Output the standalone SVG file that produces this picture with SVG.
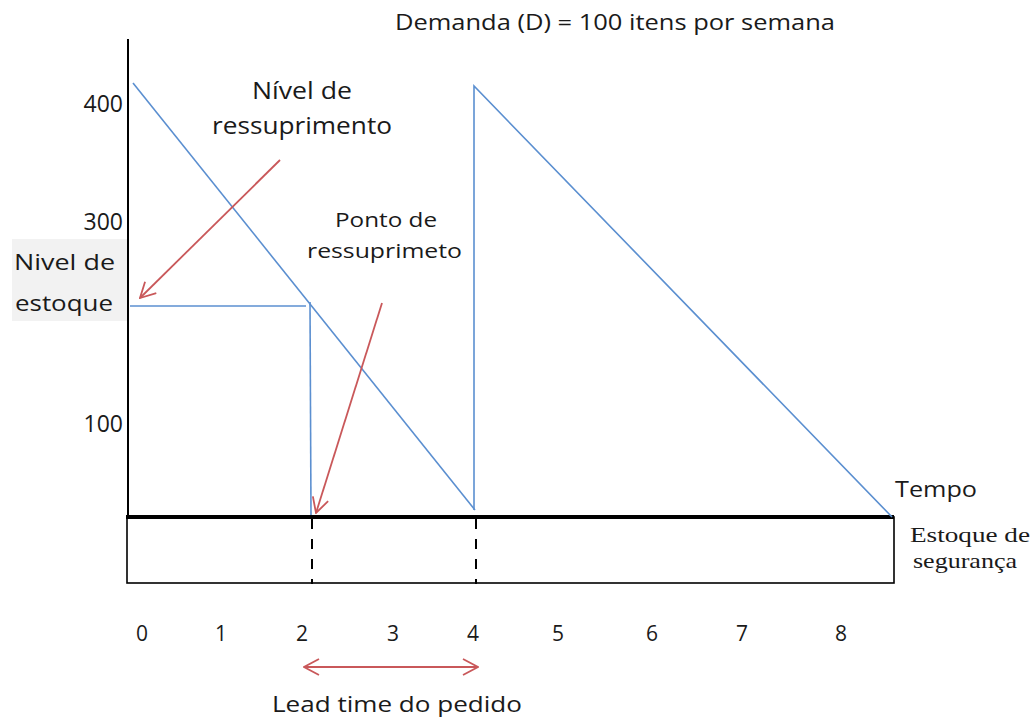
<svg xmlns="http://www.w3.org/2000/svg" width="1034" height="720" viewBox="0 0 1034 720">
<defs>
<style>
.t{font-family:"Open Sans","Liberation Sans",sans-serif;fill:#1a1a1a}
.s{font-family:"Liberation Serif",serif;fill:#1a1a1a}
.blue{stroke:#5b8fd0;stroke-width:1.6;fill:none}
.red{stroke:#c9585a;stroke-width:1.8;fill:none}
.blk{stroke:#000;fill:none}
</style>
<marker id="ah" viewBox="0 0 18 18" refX="17" refY="9" markerWidth="18" markerHeight="18" markerUnits="userSpaceOnUse" orient="auto-start-reverse">
<path d="M2,1 L17,9 L2,17" fill="none" stroke="#c9585a" stroke-width="1.8"/>
</marker>
</defs>
<rect width="1034" height="720" fill="#fff"/>
<g id="axes">
<line class="blk" x1="128" y1="39" x2="128" y2="518" stroke-width="2"/>
<rect class="blk" x="127" y="517" width="767" height="66" stroke-width="1.6"/>
<line class="blk" x1="126" y1="517" x2="894" y2="517" stroke-width="4"/>
<line class="blk" x1="312" y1="519" x2="312" y2="584" stroke-width="2" stroke-dasharray="10,10"/>
<line class="blk" x1="476" y1="519" x2="476" y2="584" stroke-width="2" stroke-dasharray="10,10"/>
</g>
<g id="connectors">
<polyline class="blue" points="133,83 475,510"/>
<polyline class="blue" points="474,510 474,86 892,517"/>
<polyline class="blue" points="130,306 306,306"/>
<polyline class="blue" points="310,302 311,515"/>
<line class="red" x1="280" y1="160" x2="140" y2="298" marker-end="url(#ah)"/>
<line class="red" x1="382" y1="303" x2="316" y2="513" marker-end="url(#ah)"/>
<line class="red" x1="304" y1="667" x2="478" y2="667" marker-start="url(#ah)" marker-end="url(#ah)"/>
</g>
<g id="title"><text class="t" x="395" y="30" font-size="22" textLength="440" lengthAdjust="spacingAndGlyphs">Demanda (D) = 100 itens por semana</text></g>
<g id="yaxis-label">
<rect x="12" y="239" width="115" height="82" fill="#f2f2f2"/>
<text class="t" x="14" y="270" font-size="22" textLength="101" lengthAdjust="spacingAndGlyphs">Nivel de</text>
<text class="t" x="15" y="311" font-size="22" textLength="98" lengthAdjust="spacingAndGlyphs">estoque</text>
</g>
<g id="yticks">
<text class="t" x="123" y="112" font-size="23" text-anchor="end">400</text>
<text class="t" x="123" y="230" font-size="23" text-anchor="end">300</text>
<text class="t" x="123" y="432" font-size="23" text-anchor="end">100</text>
</g>
<g id="nivel-ressuprimento">
<text class="t" x="252" y="99" font-size="23" textLength="100" lengthAdjust="spacingAndGlyphs">Nível de</text>
<text class="t" x="212" y="134" font-size="23" textLength="180" lengthAdjust="spacingAndGlyphs">ressuprimento</text>
</g>
<g id="ponto-ressuprimento">
<text class="t" x="335" y="227" font-size="20" textLength="102" lengthAdjust="spacingAndGlyphs">Ponto de</text>
<text class="t" x="307" y="258" font-size="20" textLength="155" lengthAdjust="spacingAndGlyphs">ressuprimeto</text>
</g>
<g id="tempo"><text class="t" x="895" y="497" font-size="21" textLength="82" lengthAdjust="spacingAndGlyphs">Tempo</text></g>
<g id="estoque-seguranca">
<text class="s" x="910" y="542" font-size="21" textLength="120" lengthAdjust="spacingAndGlyphs">Estoque de</text>
<text class="s" x="913" y="568" font-size="21" textLength="104" lengthAdjust="spacingAndGlyphs">segurança</text>
</g>
<g id="xticks">
<text class="t" x="142" y="641" font-size="21" text-anchor="middle">0</text>
<text class="t" x="221" y="641" font-size="21" text-anchor="middle">1</text>
<text class="t" x="302" y="641" font-size="21" text-anchor="middle">2</text>
<text class="t" x="393" y="641" font-size="21" text-anchor="middle">3</text>
<text class="t" x="473" y="641" font-size="21" text-anchor="middle">4</text>
<text class="t" x="558" y="641" font-size="21" text-anchor="middle">5</text>
<text class="t" x="652" y="641" font-size="21" text-anchor="middle">6</text>
<text class="t" x="742" y="641" font-size="21" text-anchor="middle">7</text>
<text class="t" x="841" y="641" font-size="21" text-anchor="middle">8</text>
</g>
<g id="lead-time"><text class="t" x="272" y="712" font-size="22" textLength="250" lengthAdjust="spacingAndGlyphs">Lead time do pedido</text></g>
</svg>
